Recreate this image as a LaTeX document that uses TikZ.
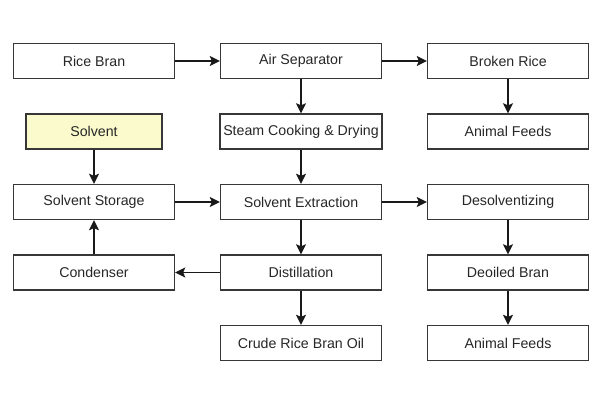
\documentclass[tikz,border=0pt]{standalone}
\usepackage{fontspec}
\setmainfont{Liberation Sans}
\usetikzlibrary{arrows.meta,positioning}
\definecolor{boxline}{RGB}{55,55,55}
\definecolor{solventfill}{RGB}{250,250,205}

\begin{document}
\begin{tikzpicture}[on grid,node distance=70.5pt and 207pt,
  main node/.style={rectangle,draw=boxline,line width=1.4pt,minimum width=161pt,minimum height=35pt,font=\fontsize{14.2}{17}\selectfont,text=black!85}]
  \useasboundingbox (0,0) rectangle (600pt,400pt);
  \node[main node] (rice) at (94pt,339pt) {Rice Bran};
  \node[main node] (air) [right=of rice] {Air Separator};
  \node[main node] (broken) [right=of air] {Broken Rice};
  \node[main node,minimum width=136pt,fill=solventfill] (solvent) [below=of rice] {Solvent};
  \node[main node] (steam) [below=of air] {Steam Cooking \& Drying};
  \node[main node] (feeds1) [below=of broken] {Animal Feeds};
  \node[main node] (storage) [below=of solvent] {Solvent Storage};
  \node[main node] (extract) [below=of steam] {Solvent Extraction};
  \node[main node] (desolv) [below=of feeds1] {Desolventizing};
  \node[main node] (cond) [below=of storage] {Condenser};
  \node[main node] (distil) [below=of extract] {Distillation};
  \node[main node] (deoiled) [below=of desolv] {Deoiled Bran};
  \node[main node] (crude) [below=of distil] {Crude Rice Bran Oil};
  \node[main node] (feeds2) [below=of deoiled] {Animal Feeds};

  \path[every edge/.style={draw=black!90,line width=1.7pt,-{Stealth[length=10pt,width=10pt,inset=2pt]}}]
    (rice) edge (air)
    (air) edge (broken)
    (air) edge (steam)
    (broken) edge (feeds1)
    (steam) edge (extract)
    (solvent) edge (storage)
    (storage) edge (extract)
    (extract) edge (desolv)
    (extract) edge (distil)
    (desolv) edge (deoiled)
    (distil) edge (cond)
    (distil) edge (crude)
    (deoiled) edge (feeds2)
    (cond) edge (storage);
\end{tikzpicture}
\end{document}
